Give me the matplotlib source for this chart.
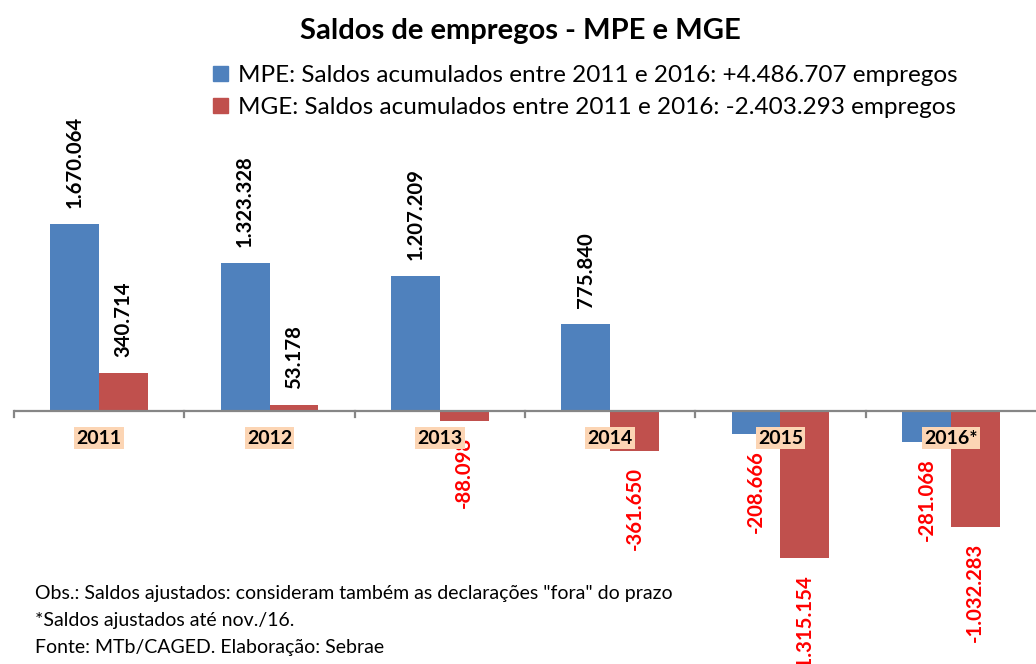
import matplotlib.pyplot as plt
from matplotlib.patches import Patch

plt.rcParams['font.family'] = ['Lato', 'DejaVu Sans']

# Data
anos = ['2011', '2012', '2013', '2014', '2015', '2016*']
mpe = [1670064, 1323328, 1207209, 775840, -208666, -281068]
mge = [340714, 53178, -88098, -361650, -1315154, -1032283]
legenda = ['MPE: Saldos acumulados entre 2011 e 2016: +4.486.707 empregos',
           'MGE: Saldos acumulados entre 2011 e 2016: -2.403.293 empregos']
notas = ['Obs.: Saldos ajustados: consideram também as declarações "fora" do prazo',
         '*Saldos ajustados até nov./16.',
         'Fonte: MTb/CAGED. Elaboração: Sebrae']

azul = '#4F81BD'
vermelho = '#C0504D'


def fmt(v):
    return f'{v:,}'.replace(',', '.')


W, H = 1036, 664
fig = plt.figure(figsize=(W / 100, H / 100), dpi=100)
# axes spans px y 140..664, x 14..1036
ax = fig.add_axes([14 / W, 0, 1022 / W, 1 - 140 / H])
px = 8931  # units per pixel
ax.set_ylim(-(H - 411) * px, (411 - 140) * px)
ax.set_xlim(-0.5, len(anos) - 0.5)

w = 0.287
x = list(range(len(anos)))
ax.bar([i - w / 2 for i in x], mpe, width=w, color=azul, zorder=2)
ax.bar([i + w / 2 for i in x], mge, width=w, color=vermelho, zorder=2)

# data labels
off = 16 * 72 / 100
for serie, dx in ((mpe, -w / 2), (mge, w / 2)):
    for i, v in enumerate(serie):
        pos = v >= 0
        ax.annotate(fmt(v), xy=(i + dx, v), xytext=(0, off if pos else -off),
                    textcoords='offset points', rotation=90, ha='center',
                    va='bottom' if pos else 'top', fontsize=14.6, fontweight='bold',
                    color='black' if pos else '#FF0000', zorder=5)

# axis line and ticks at category boundaries
ax.axhline(0, color='#868686', lw=1.6, zorder=3)
for b in range(len(anos)):
    ax.plot([b - 0.5, b - 0.5], [0, -6 * px], color='#868686', lw=1.6, zorder=3,
            clip_on=False)
for i, a in enumerate(anos):
    ax.annotate(a, xy=(i, 0), xytext=(0, -27 * 72 / 100), textcoords='offset points',
                ha='center', va='center', fontsize=14, fontweight='bold',
                bbox=dict(boxstyle='square,pad=0.12', fc='#FCD5B4', ec='none'), zorder=6)

ax.axis('off')

fig.text(520 / W, 1 - 31 / H, 'Saldos de empregos - MPE e MGE', ha='center',
         va='center', fontsize=21, fontweight='bold')

handles = [Patch(color=azul), Patch(color=vermelho)]
fig.legend(handles, legenda, loc='upper left', bbox_to_anchor=(213 / W, 1 - 65 / H),
           frameon=False, fontsize=17.5, handlelength=0.62, handleheight=0.62,
           handletextpad=0.4, labelspacing=0.45, borderpad=0, borderaxespad=0)

for k, t in enumerate(notas):
    fig.text(35 / W, 1 - (594 + 26.5 * k) / H, t, ha='left', va='center', fontsize=14)

fig.savefig('out.png', dpi=100)
